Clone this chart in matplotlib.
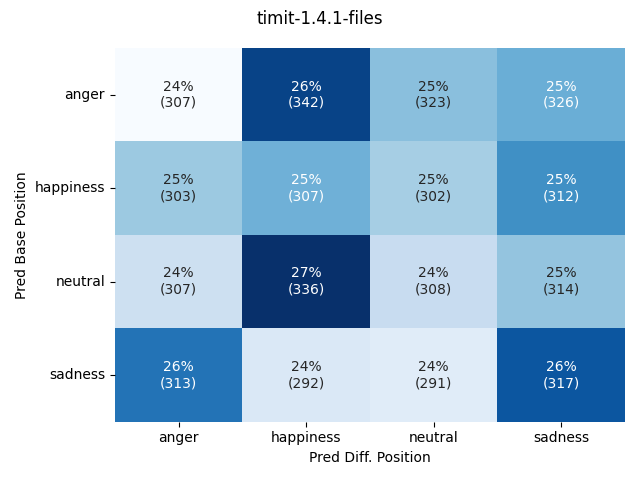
import matplotlib
matplotlib.use("Agg")
import matplotlib.pyplot as plt
import numpy as np
import seaborn as sns

labels = ["anger", "happiness", "neutral", "sadness"]
counts = np.array([
    [307, 342, 323, 326],
    [303, 307, 302, 312],
    [307, 336, 308, 314],
    [313, 292, 291, 317],
])

# pourcentages par ligne
pct = counts / counts.sum(axis=1, keepdims=True) * 100
annot = np.array([[f"{p:.0f}%\n({c})" for p, c in zip(rp, rc)] for rp, rc in zip(pct, counts)])

fig, ax = plt.subplots(figsize=(6.4, 4.8), dpi=100)
sns.heatmap(pct, annot=annot, fmt="", cmap="Blues", cbar=False,
            xticklabels=labels, yticklabels=labels, ax=ax)
ax.set_xlabel("Pred Diff. Position")
ax.set_ylabel("Pred Base Position")
plt.setp(ax.get_yticklabels(), rotation=0)
fig.suptitle("timit-1.4.1-files")
fig.tight_layout()
fig.savefig("out.png")
